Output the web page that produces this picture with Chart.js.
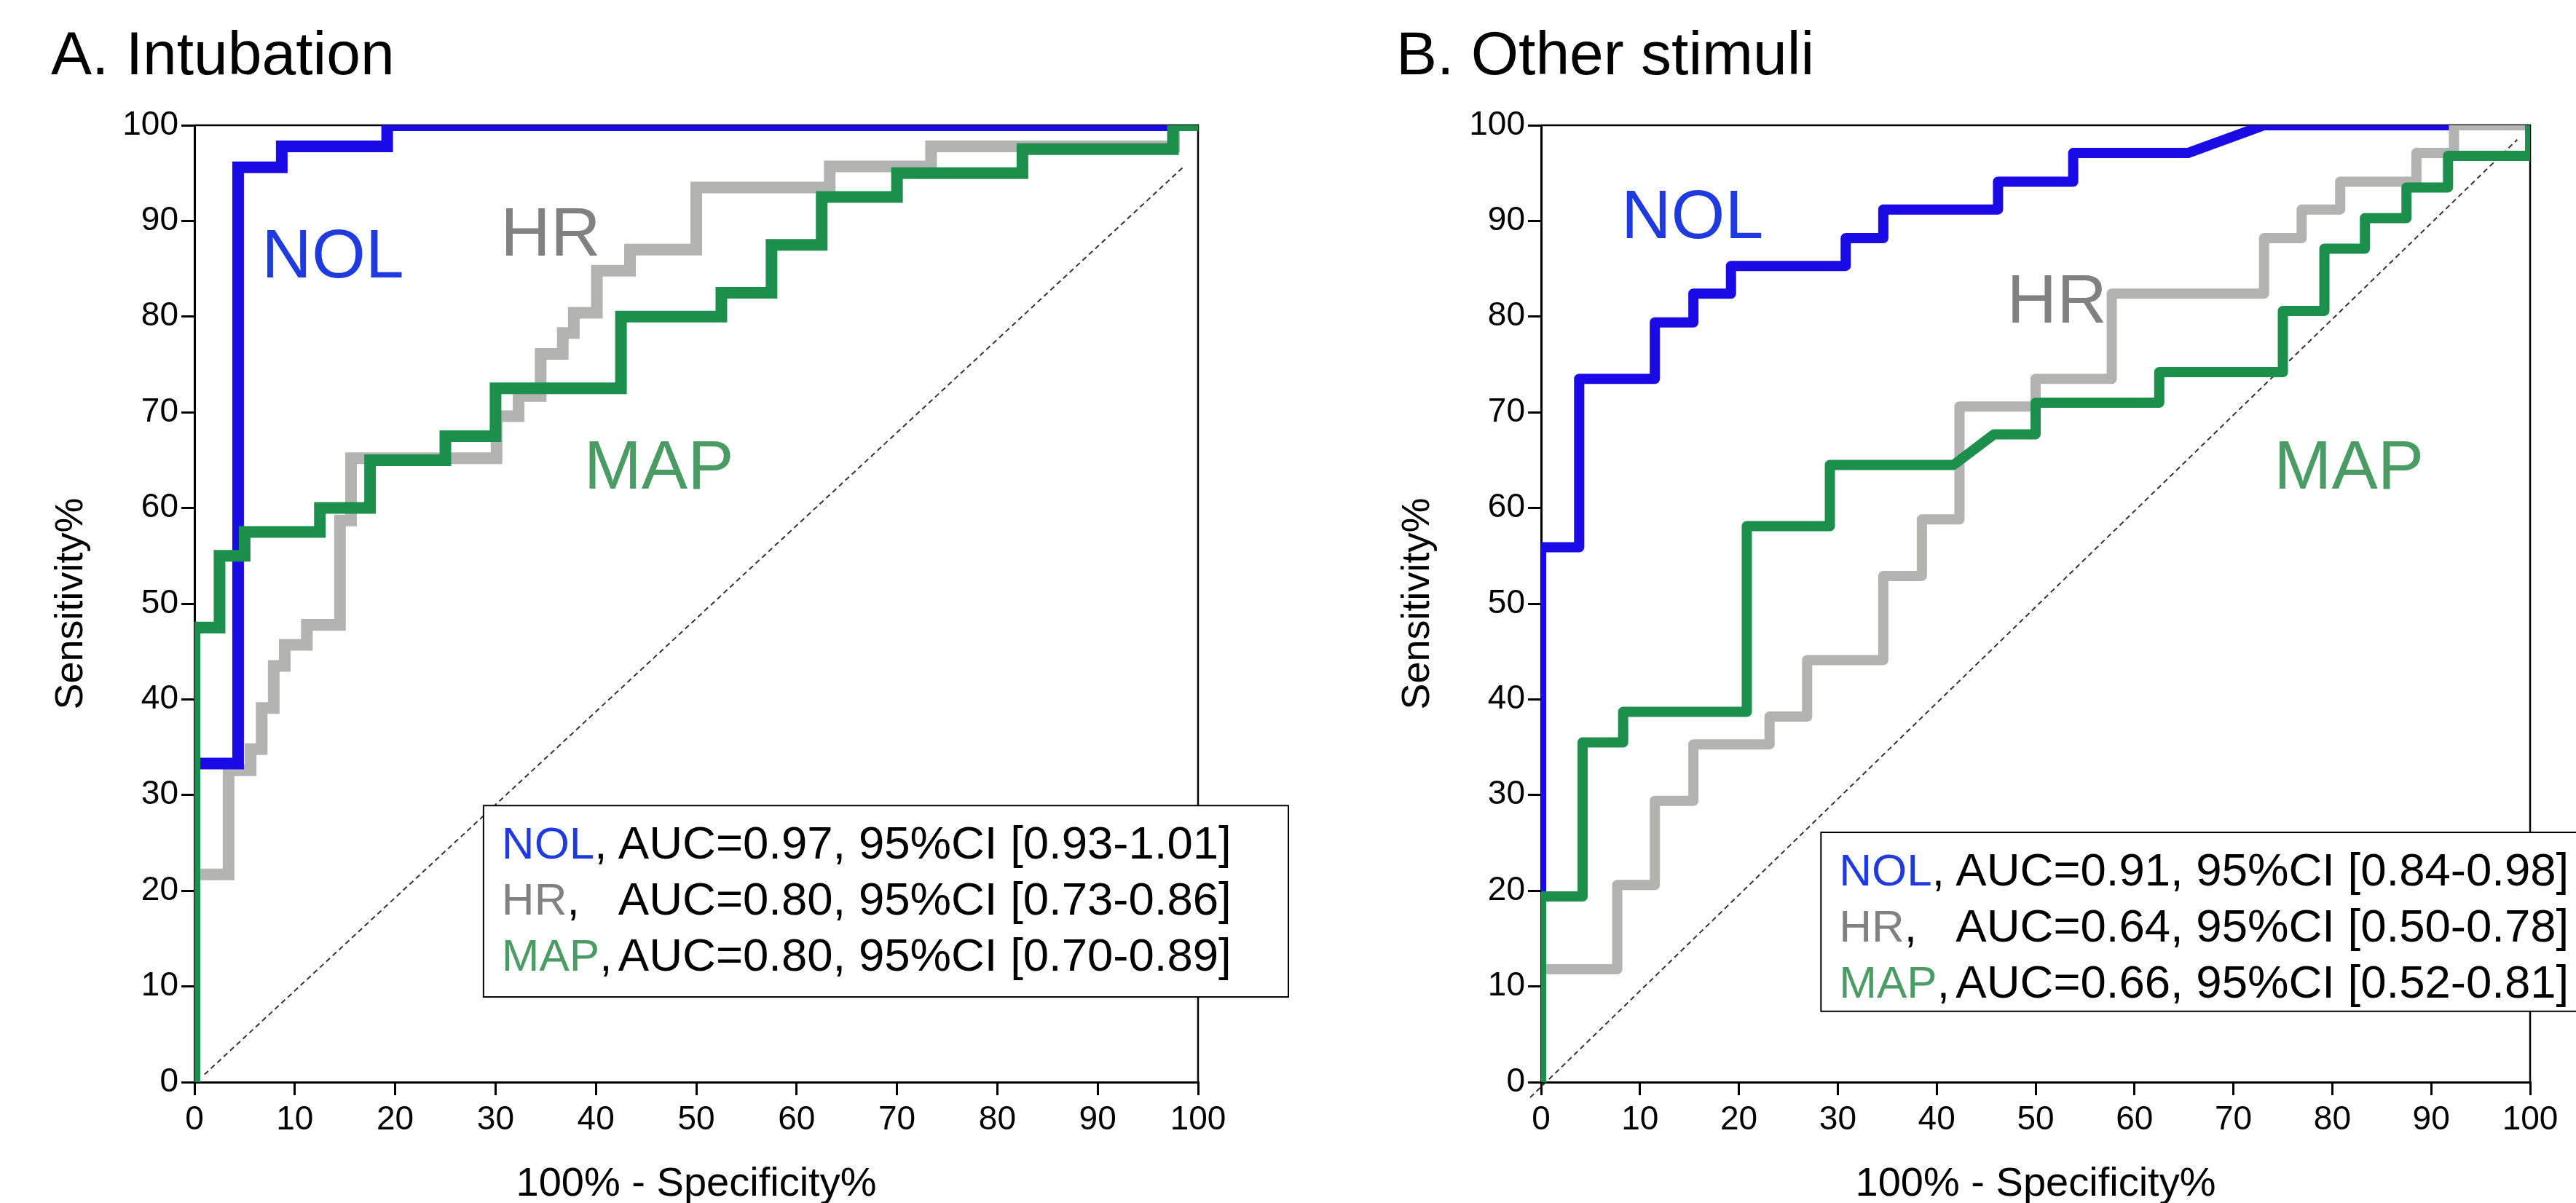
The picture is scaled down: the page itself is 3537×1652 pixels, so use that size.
<!DOCTYPE html>
<html>
<head>
<meta charset="utf-8">
<script src="https://cdn.jsdelivr.net/npm/chart.js@4.4.1/dist/chart.umd.min.js"></script>
<style>
  html, body { margin: 0; padding: 0; background: #fff; }
  body { width: 3537px; height: 1652px; position: relative; overflow: hidden; }
  canvas { position: absolute; top: 0; }
  #rocA { left: 0; }
  #rocB { left: 1849px; }
</style>
</head>
<body>
<canvas id="rocA" width="1849" height="1652"></canvas>
<canvas id="rocB" width="1688" height="1652"></canvas>
<script>
// tick labels, both axes, both panels
const axisTicks = [0, 10, 20, 30, 40, 50, 60, 70, 80, 90, 100];

// A. Intubation -- ROC points, x = 100% - specificity, y = sensitivity
const nolA_x = [0, 0, 4.35, 4.35, 8.7, 8.7, 19.2, 19.2, 100];
const nolA_y = [0, 33.3, 33.3, 95.6, 95.6, 97.8, 97.8, 100, 100];
const hrA_x = [0, 0, 3.4, 3.4, 5.6, 5.6, 6.7, 6.7, 7.9, 7.9, 9.0, 9.0, 11.2, 11.2, 14.5, 14.5, 15.6, 15.6,
  30.1, 30.1, 32.3, 32.3, 34.5, 34.5, 36.7, 36.7, 37.8, 37.8, 40.1, 40.1, 43.4, 43.4, 50.0, 50.0,
  63.3, 63.3, 73.4, 73.4, 97.6, 97.6, 100];
const hrA_y = [0, 21.7, 21.7, 32.6, 32.6, 34.8, 34.8, 39.1, 39.1, 43.5, 43.5, 45.7, 45.7, 47.8, 47.8, 58.7, 58.7, 65.2,
  65.2, 69.6, 69.6, 71.7, 71.7, 76.1, 76.1, 78.3, 78.3, 80.4, 80.4, 84.8, 84.8, 87.0, 87.0, 93.5,
  93.5, 95.7, 95.7, 97.8, 97.8, 100, 100];
const mapA_x = [0, 0, 2.5, 2.5, 5, 5, 12.5, 12.5, 17.5, 17.5, 25, 25, 30, 30, 42.5, 42.5, 52.5, 52.5,
  57.5, 57.5, 62.5, 62.5, 70, 70, 82.5, 82.5, 97.5, 97.5, 100];
const mapA_y = [0, 47.5, 47.5, 55, 55, 57.5, 57.5, 60, 60, 65, 65, 67.5, 67.5, 72.5, 72.5, 80, 80, 82.5,
  82.5, 87.5, 87.5, 92.5, 92.5, 95, 95, 97.5, 97.5, 100, 100];
const chanceA_x = [1, 98.7];
const chanceA_y = [0.8, 95.8];
const aucA = ["AUC=0.97, 95%CI [0.93-1.01]", "AUC=0.80, 95%CI [0.73-0.86]", "AUC=0.80, 95%CI [0.70-0.89]"];

// B. Other stimuli
const nolB_x = [0, 0, 3.85, 3.85, 11.5, 11.5, 15.4, 15.4, 19.2, 19.2, 30.8, 30.8, 34.6, 34.6, 46.2, 46.2,
  53.8, 53.8, 65.4, 73.1, 100];
const nolB_y = [0, 55.9, 55.9, 73.5, 73.5, 79.4, 79.4, 82.4, 82.4, 85.3, 85.3, 88.2, 88.2, 91.2, 91.2, 94.1,
  94.1, 97.1, 97.1, 100, 100];
const hrB_x = [0, 0, 7.7, 7.7, 11.5, 11.5, 15.4, 15.4, 23.1, 23.1, 26.9, 26.9, 34.6, 34.6, 38.5, 38.5,
  42.3, 42.3, 50, 50, 57.7, 57.7, 73.1, 73.1, 76.9, 76.9, 80.8, 80.8, 88.5, 88.5, 92.3, 92.3, 100];
const hrB_y = [0, 11.8, 11.8, 20.6, 20.6, 29.4, 29.4, 35.3, 35.3, 38.2, 38.2, 44.1, 44.1, 52.9, 52.9, 58.8,
  58.8, 70.6, 70.6, 73.5, 73.5, 82.4, 82.4, 88.2, 88.2, 91.2, 91.2, 94.1, 94.1, 97.1, 97.1, 100, 100];
const mapB_x = [0, 0, 4.2, 4.2, 8.3, 8.3, 20.8, 20.8, 29.2, 29.2, 41.7, 45.8, 50, 50, 62.5, 62.5,
  75, 75, 79.2, 79.2, 83.3, 83.3, 87.5, 87.5, 91.7, 91.7, 100, 100];
const mapB_y = [0, 19.4, 19.4, 35.5, 35.5, 38.7, 38.7, 58.1, 58.1, 64.5, 64.5, 67.7, 67.7, 71, 71, 74.2,
  74.2, 80.6, 80.6, 87.1, 87.1, 90.3, 90.3, 93.5, 93.5, 96.8, 96.8, 100];
const chanceB_x = [-1.1, 98.7];
const chanceB_y = [-1.6, 98.5];
const aucB = ["AUC=0.91, 95%CI [0.84-0.98]", "AUC=0.64, 95%CI [0.50-0.78]", "AUC=0.66, 95%CI [0.52-0.81]"];

const names = ["NOL", "HR", "MAP"];
const lineColors = { NOL: "#1a0ae6", HR: "#b3b3b1", MAP: "#1c8f4c" };
const textColors = { NOL: "#1f3be0", HR: "#818181", MAP: "#4b9c64" };

const FONT = '"Liberation Sans", Arial, Helvetica, sans-serif';
Chart.defaults.font.family = FONT;
Chart.defaults.color = "#000";

const pts = (xs, ys) => xs.map((v, i) => ({ x: v, y: ys[i] }));

function curve(label, xs, ys, color, width, join, order) {
  return {
    label, data: pts(xs, ys), showLine: true, order,
    borderColor: color, backgroundColor: color, borderWidth: width,
    borderJoinStyle: join, borderCapStyle: "round",
    pointRadius: 0, pointHoverRadius: 0, tension: 0, fill: false,
  };
}

function chance(xs, ys) {
  return {
    label: "chance", data: pts(xs, ys), showLine: true, order: 9, clip: false,
    borderColor: "#333", borderWidth: 2, borderDash: [7, 5],
    pointRadius: 0, pointHoverRadius: 0, fill: false,
  };
}

// frame, panel title, curve names and the AUC box
function decor(cfg) {
  return {
    id: "rocDecor",
    beforeDatasetsDraw(chart) {
      const { ctx, chartArea: a } = chart;
      ctx.save();
      ctx.strokeStyle = "#000";
      ctx.lineWidth = 2.5;
      ctx.beginPath();
      ctx.moveTo(a.left, a.top);
      ctx.lineTo(a.right, a.top);
      ctx.lineTo(a.right, a.bottom);
      ctx.stroke();
      ctx.restore();
    },
    afterDatasetsDraw(chart) {
      const { ctx, scales: { x, y } } = chart;
      ctx.save();
      ctx.textBaseline = "alphabetic";
      ctx.textAlign = "left";
      ctx.fillStyle = "#000";
      ctx.font = `84px ${FONT}`;
      ctx.fillText(cfg.title, cfg.titleX, 102);

      ctx.font = `95px ${FONT}`;
      cfg.labels.forEach((l) => {
        ctx.fillStyle = textColors[l.name];
        ctx.fillText(l.name, x.getPixelForValue(l.x), y.getPixelForValue(l.y));
      });

      const b = cfg.box;
      const L = x.getPixelForValue(b.x0), R = x.getPixelForValue(b.x1);
      const T = y.getPixelForValue(b.y1), B = y.getPixelForValue(b.y0);
      ctx.fillStyle = "#fff";
      ctx.fillRect(L, T, R - L, B - T);
      ctx.strokeStyle = "#000";
      ctx.lineWidth = 2;
      ctx.strokeRect(L, T, R - L, B - T);

      names.forEach((n, i) => {
        const yy = T + 73 + i * 77;
        ctx.font = `62px ${FONT}`;
        ctx.fillStyle = textColors[n];
        ctx.fillText(n, L + 25, yy);
        const w = ctx.measureText(n).width;
        ctx.fillStyle = "#000";
        ctx.fillText(",", L + 25 + w, yy);
        ctx.font = `63.5px ${FONT}`;
        ctx.fillText(cfg.auc[i], L + 185, yy);
      });
      ctx.restore();
    },
  };
}

function scales() {
  const grid = { drawOnChartArea: false, drawTicks: true, tickLength: 18, tickWidth: 3, tickColor: "#000", lineWidth: 3, color: "#000" };
  const border = { display: true, color: "#000", width: 3 };
  return {
    x: {
      type: "linear", min: 0, max: 100,
      afterBuildTicks: (s) => { s.ticks = axisTicks.map((v) => ({ value: v })); },
      afterFit: (s) => { s.height = 166; },
      ticks: { padding: 7, font: { size: 46 }, color: "#000", maxRotation: 0, autoSkip: false },
      grid, border,
      title: { display: true, text: "100% - Specificity%", color: "#000", font: { size: 56, lineHeight: 0.8 }, padding: { top: 0, bottom: 3 } },
    },
    y: {
      type: "linear", min: 0, max: 100,
      afterBuildTicks: (s) => { s.ticks = axisTicks.map((v) => ({ value: v })); },
      afterFit: (s) => { s.width = 267; },
      ticks: { padding: 4, font: { size: 46 }, color: "#000", autoSkip: false },
      grid, border,
      title: { display: true, text: "Sensitivity%", color: "#000", font: { size: 54, lineHeight: 1 }, padding: { top: 71, bottom: 0 } },
    },
  };
}

function rocChart(id, datasets, padRight, cfg) {
  return new Chart(document.getElementById(id), {
    type: "scatter",
    data: { datasets },
    options: {
      responsive: false,
      animation: false,
      events: [],
      layout: { padding: { left: 0, top: 172, right: padRight, bottom: 0 } },
      plugins: { legend: { display: false }, tooltip: { enabled: false }, title: { display: false } },
      scales: scales(),
    },
    plugins: [decor(cfg)],
  });
}

rocChart("rocA", [
  curve("MAP", mapA_x, mapA_y, lineColors.MAP, 16, "miter", 1),
  curve("NOL", nolA_x, nolA_y, lineColors.NOL, 16, "miter", 2),
  curve("HR", hrA_x, hrA_y, lineColors.HR, 16, "miter", 3),
  chance(chanceA_x, chanceA_y),
], 204, {
  title: "A. Intubation", titleX: 70,
  labels: [{ name: "NOL", x: 6.7, y: 84.1 }, { name: "HR", x: 30.5, y: 86.4 }, { name: "MAP", x: 38.8, y: 62.0 }],
  box: { x0: 28.8, x1: 109, y0: 8.9, y1: 28.9 },
  auc: aucA,
});

rocChart("rocB", [
  curve("MAP", mapB_x, mapB_y, lineColors.MAP, 14, "round", 1),
  curve("HR", hrB_x, hrB_y, lineColors.HR, 14, "round", 2),
  curve("NOL", nolB_x, nolB_y, lineColors.NOL, 14, "round", 3),
  chance(chanceB_x, chanceB_y),
], 63, {
  title: "B. Other stimuli", titleX: 68,
  labels: [{ name: "NOL", x: 8.1, y: 88.2 }, { name: "HR", x: 47.1, y: 79.4 }, { name: "MAP", x: 74.1, y: 62.0 }],
  box: { x0: 28.3, x1: 115, y0: 7.4, y1: 26.1 },
  auc: aucB,
});
</script>
</body>
</html>
